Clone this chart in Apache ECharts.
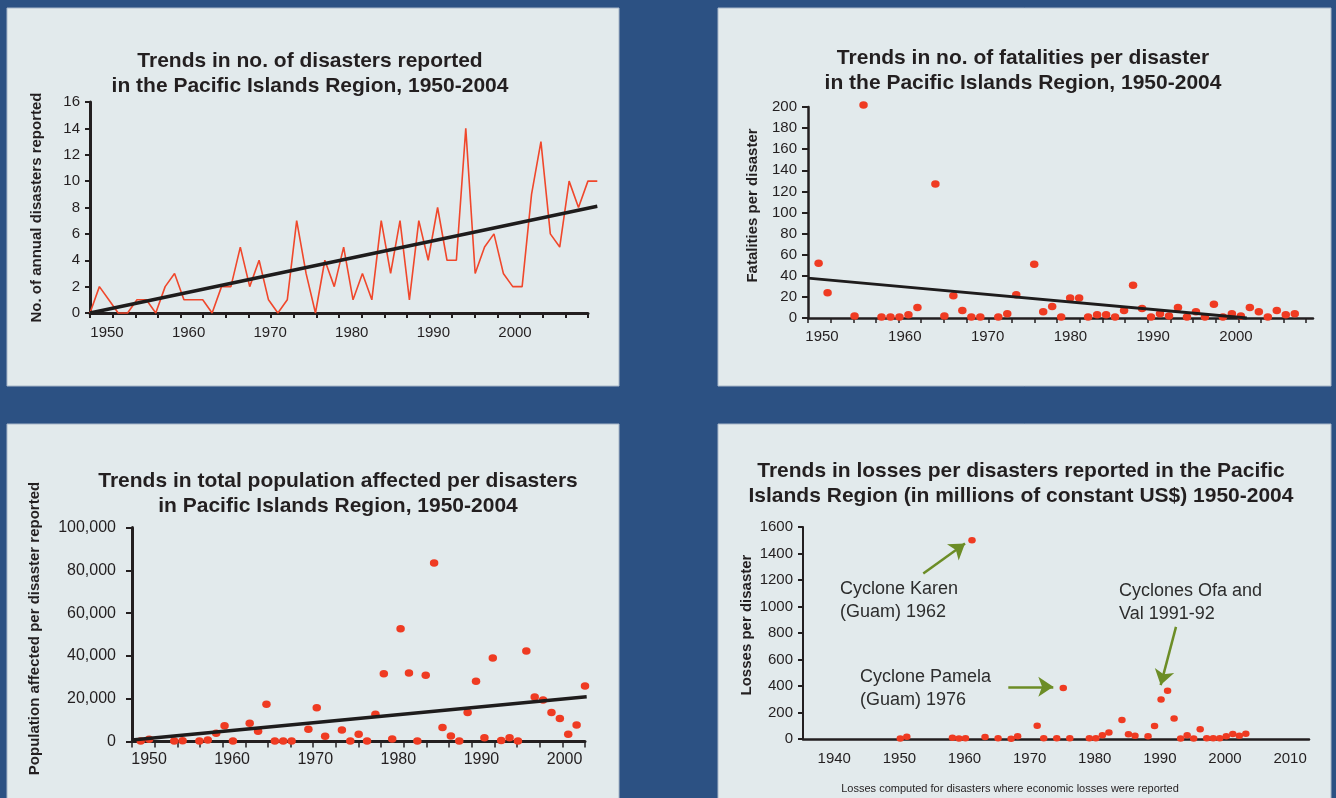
<!DOCTYPE html>
<html>
<head>
<meta charset="utf-8">
<script src="https://cdn.jsdelivr.net/npm/echarts@6/dist/echarts.min.js"></script>
<style>
html,body{margin:0;padding:0;background:#2c5183;}
#c{width:1336px;height:798px;}
</style>
</head>
<body>
<div id="c"></div>
<script>
// ---------- DATA ----------
// Chart 1: number of disasters reported per year
const disasterYears = [1950,1951,1952,1953,1954,1955,1956,1957,1958,1959,1960,1961,1962,1963,1964,1965,1966,1967,1968,1969,1970,1971,1972,1973,1974,1975,1976,1977,1978,1979,1980,1981,1982,1983,1984,1985,1986,1987,1988,1989,1990,1991,1992,1993,1994,1995,1996,1997,1998,1999,2000,2001,2002,2003,2004];
const disasterCounts = [0,2,1,0,0,1,1,0,2,3,1,1,1,0,2,2,5,2,4,1,0,1,7,3,0,4,2,5,1,3,1,7,3,7,1,7,4,8,4,4,14,3,5,6,3,2,2,9,13,6,5,10,8,10,10];
const disasterTrendYears = [1950, 2004];
const disasterTrendVals = [0, 8.1];

// Chart 2: fatalities per disaster
const fatalYears = [1950,1951,1954,1955,1957,1958,1959,1960,1961,1963,1964,1965,1966,1967,1968,1970,1971,1972,1974,1975,1976,1977,1978,1979,1980,1981,1982,1983,1984,1985,1986,1987,1988,1989,1990,1991,1992,1993,1994,1995,1996,1997,1998,1999,2000,2001,2002,2003];
const fatalVals = [52,24,2,202,1,1,1,3,10,127,2,21,7,1,1,1,4,22,51,6,11,1,19,19,1,3,3,1,7,31,9,1,4,2,10,1,6,1,13,1,4,2,10,6,1,7,3,4];
const fatalTrendYears = [1948.82, 1997.66];
const fatalTrendVals = [37.8, 0];

// Chart 3: population affected per disaster
const popYears = [1950,1951,1954,1955,1957,1958,1959,1960,1961,1963,1964,1965,1966,1967,1968,1970,1971,1972,1974,1975,1976,1977,1978,1979,1980,1981,1982,1983,1984,1985,1986,1987,1988,1989,1990,1991,1992,1993,1994,1995,1996,1997,1998,1999,2000,2001,2002,2003];
const popVals = [200,1000,200,400,200,700,3800,7400,200,8500,4800,17400,200,200,200,5700,15800,2400,5400,200,3400,200,12700,31700,1200,52700,32000,200,30900,83400,6500,2600,200,13500,28100,1800,39000,500,1800,200,42300,20800,19400,13500,10800,3400,7700,25900];
const popTrendYears = [1948.96, 2003.2];
const popTrendVals = [700, 20900];

// Chart 4: losses per disaster (millions constant US$)
const lossYears = [1951,1952,1959,1960,1961,1962,1964,1966,1968,1969,1972,1973,1975,1976,1977,1980,1981,1982,1983,1985,1986,1987,1989,1990,1991,1992,1993,1994,1995,1996,1997,1998,1999,2000,2001,2002,2003,2004];
const lossVals = [3,17,10,3,5,1500,15,5,2,20,100,5,5,384,5,5,5,28,50,143,35,25,20,98,299,365,154,3,28,3,73,5,5,5,20,38,25,40];

// Tick labels
const xLabels1 = [1950,1960,1970,1980,1990,2000];
const xLabels4 = [1940,1950,1960,1970,1980,1990,2000,2010];
const tickSteps22 = [0,1,2,3,4,5,6,7,8,9,10,11,12,13,14,15,16,17,18,19,20,21,22];

// Annotations (chart 4): text and arrows [fromYear, fromVal, toYear, toVal]
const annoTexts = ['Cyclone Karen\n(Guam) 1962', 'Cyclone Pamela\n(Guam) 1976', 'Cyclones Ofa and\nVal 1991-92'];
const annoArrows = [
  [1954.53, 1249, 1960.93, 1475],
  [1967.57, 394, 1974.47, 394],
  [1993.29, 846, 1990.94, 407]
];

// Titles
const titles = [
  'Trends in no. of disasters reported\nin the Pacific Islands Region, 1950-2004',
  'Trends in no. of fatalities per disaster\nin the Pacific Islands Region, 1950-2004',
  'Trends in total population affected per disasters\nin Pacific Islands Region, 1950-2004',
  'Trends in losses per disasters reported in the Pacific\nIslands Region (in millions of constant US$) 1950-2004'
];
const yNames = ['No. of annual disasters reported', 'Fatalities per disaster', 'Population affected per disaster reported', 'Losses per disaster'];
const footnote = 'Losses computed for disasters where economic losses were reported';

// ---------- STYLE ----------
const FONT = '"Liberation Sans", Arial, Helvetica, sans-serif';
const TXT = '#231f20';
const RED = '#ef3b22';
const GREEN = '#6c8d26';

const pairs = (xs, ys) => xs.map((x, i) => [x, ys[i]]);
const decadeFmt = v => (Math.abs(v - Math.round(v / 10) * 10) < 1e-6 ? String(Math.round(v)) : '');
const commaFmt = v => String(v).replace(/\B(?=(\d{3})+(?!\d))/g, ',');
const plainFmt = v => String(v);

function dataAxis(g, min, max) {
  return { gridIndex: g, type: 'value', min: min, max: max, show: false };
}
function labelAxis(g, min, max, split, labels, fs, margin, line) {
  return {
    gridIndex: g, type: 'value', position: 'bottom', min: min, max: max, splitNumber: split,
    axisLine: line ? { show: true, onZero: false, lineStyle: { color: TXT, width: line } } : { show: false, onZero: false },
    axisTick: { show: false }, splitLine: { show: false },
    axisLabel: { show: true, customValues: labels, formatter: decadeFmt, color: TXT, fontSize: fs, fontFamily: FONT, margin: margin }
  };
}
function tickAxis(g, max, lw, tw, tl) {
  const vals = tickSteps22.filter(v => v <= max + 1e-9);
  return {
    gridIndex: g, type: 'value', position: 'bottom', min: 0, max: max, interval: 1,
    axisLine: { show: true, onZero: false, lineStyle: { color: TXT, width: lw } },
    axisTick: { show: true, customValues: vals, length: tl, lineStyle: { color: TXT, width: tw } },
    axisLabel: { show: false }, splitLine: { show: false }
  };
}
function yAxis(g, max, interval, name, gap, fmt, fs, margin, lw, tl, namePad) {
  return {
    gridIndex: g, type: 'value', min: 0, max: max, interval: interval,
    name: name, nameLocation: 'middle', nameRotate: 90, nameGap: gap,
    nameTextStyle: { color: TXT, fontSize: 15, fontWeight: 'bold', fontFamily: FONT, padding: namePad || 0 },
    axisLine: { show: true, onZero: false, lineStyle: { color: TXT, width: lw } },
    axisTick: { show: true, length: tl, lineStyle: { color: TXT, width: 2 } },
    axisLabel: { color: TXT, fontSize: fs, fontFamily: FONT, margin: margin, formatter: fmt },
    splitLine: { show: false }
  };
}

const panelRects = [[7, 8, 612, 378], [718, 8, 613, 378], [7, 424, 612, 380], [718, 424, 613, 380]];

const option = {
  backgroundColor: '#2c5183',
  animation: false,
  title: [
    { text: titles[0], left: 310, top: 49 },
    { text: titles[1], left: 1023, top: 46 },
    { text: titles[2], left: 338, top: 469 },
    { text: titles[3], left: 1021, top: 459 }
  ].map(t => Object.assign(t, {
    textAlign: 'center', padding: 0,
    textStyle: { color: TXT, fontSize: 21, fontWeight: 'bold', fontFamily: FONT, lineHeight: 25, align: 'center' }
  })),
  graphic: [
    ...panelRects.map(r => ({
      type: 'rect', z: -10, silent: true,
      shape: { x: r[0], y: r[1], width: r[2], height: r[3] },
      style: { fill: '#e2eaec', stroke: '#a9b8c9', lineWidth: 1 }
    })),
    { type: 'text', x: 840, y: 578, style: { text: annoTexts[0], fill: '#2d2d2d', font: '18px ' + FONT, lineHeight: 23 } },
    { type: 'text', x: 860, y: 666, style: { text: annoTexts[1], fill: '#2d2d2d', font: '18px ' + FONT, lineHeight: 23 } },
    { type: 'text', x: 1119, y: 580, style: { text: annoTexts[2], fill: '#2d2d2d', font: '18px ' + FONT, lineHeight: 23 } },
    { type: 'text', x: 1010, y: 789, style: { text: footnote, fill: TXT, font: '11px ' + FONT, textAlign: 'center', textVerticalAlign: 'middle' } }
  ],
  grid: [
    { left: 90, top: 102, width: 498, height: 211 },
    { left: 808, top: 107, width: 505, height: 211 },
    { left: 132, top: 527.5, width: 453, height: 214 },
    { left: 803, top: 527, width: 506, height: 212 },
    { left: 90, top: 102, width: 507.3, height: 211 }
  ],
  xAxis: [
    // chart 1 (axis display)
    dataAxis(0, 1950, 2003.0),
    labelAxis(0, 1947.92, 2008.95, 6, xLabels1, 15, 12, 0),
    tickAxis(0, 22, 3, 2, 5),
    // chart 2
    dataAxis(1, 1948.82, 2005.03),
    labelAxis(1, 1948.31, 2009.3, 6, xLabels1, 15, 11, 0),
    tickAxis(1, 22.3, 2.5, 1.5, 5),
    // chart 3
    dataAxis(2, 1948.96, 2003.0),
    labelAxis(2, 1947.95, 2002.46, 5, xLabels1, 16, 10, 0),
    tickAxis(2, 20, 3, 1.5, 6),
    // chart 4
    dataAxis(3, 1936.08, 2013.69),
    labelAxis(3, 1935.2, 2012.9, 8, xLabels4, 15, 12, 2.5),
    // chart 1 data scale (index 11)
    dataAxis(4, 1950, 2004)
  ],
  yAxis: [
    yAxis(0, 16, 2, yNames[0], 46, null, 15, 10, 3, 5),
    yAxis(1, 200, 20, yNames[1], 48, null, 15, 11, 2.5, 6, [0, 0, 0, 14]),
    yAxis(2, 100000, 20000, yNames[2], 90, commaFmt, 16, 16, 3, 6, [0, 0, 0, 12]),
    yAxis(3, 1600, 200, yNames[3], 49, plainFmt, 15, 10, 2, 5, [0, 0, 0, 16]),
    { gridIndex: 4, type: 'value', min: 0, max: 16, show: false }
  ],
  series: [
    {
      type: 'line', xAxisIndex: 11, yAxisIndex: 4, data: pairs(disasterYears, disasterCounts),
      showSymbol: false, symbol: 'none', clip: false, z: 3,
      lineStyle: { color: '#f0472b', width: 1.6 }
    },
    {
      type: 'line', xAxisIndex: 11, yAxisIndex: 4, data: pairs(disasterTrendYears, disasterTrendVals),
      showSymbol: false, symbol: 'none', clip: false, z: 4,
      lineStyle: { color: '#1e1c1c', width: 3.5 }
    },
    {
      type: 'scatter', xAxisIndex: 3, yAxisIndex: 1, data: pairs(fatalYears, fatalVals),
      symbol: 'circle', symbolSize: [8.5, 7.5], itemStyle: { color: RED, opacity: 1 }, clip: false, z: 3
    },
    {
      type: 'line', xAxisIndex: 3, yAxisIndex: 1, data: pairs(fatalTrendYears, fatalTrendVals),
      showSymbol: false, symbol: 'none', clip: false, z: 4,
      lineStyle: { color: '#1e1c1c', width: 3 }
    },
    {
      type: 'scatter', xAxisIndex: 6, yAxisIndex: 2, data: pairs(popYears, popVals),
      symbol: 'circle', symbolSize: [8.5, 7.5], itemStyle: { color: RED, opacity: 1 }, clip: false, z: 3
    },
    {
      type: 'line', xAxisIndex: 6, yAxisIndex: 2, data: pairs(popTrendYears, popTrendVals),
      showSymbol: false, symbol: 'none', clip: false, z: 4,
      lineStyle: { color: '#1e1c1c', width: 3.5 }
    },
    {
      type: 'scatter', xAxisIndex: 9, yAxisIndex: 3, data: pairs(lossYears, lossVals),
      symbol: 'circle', symbolSize: [7.5, 6.5], itemStyle: { color: RED, opacity: 1 }, clip: false, z: 4,
      markLine: {
        silent: true, animation: false,
        symbol: ['none', 'arrow'], symbolSize: 15,
        label: { show: false },
        lineStyle: { color: GREEN, width: 2.5, type: 'solid' },
        emphasis: { disabled: true },
        data: annoArrows.map(a => [{ coord: [a[0], a[1]] }, { coord: [a[2], a[3]] }])
      }
    }
  ]
};

const chart = echarts.init(document.getElementById('c'), null, { renderer: 'canvas' });
chart.setOption(option);
</script>
</body>
</html>
